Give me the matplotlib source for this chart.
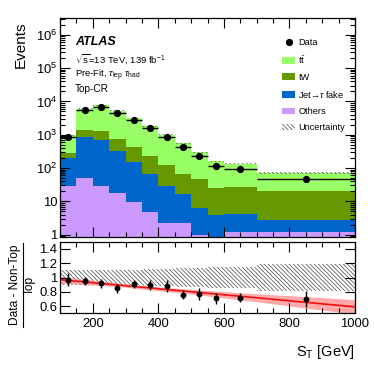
import matplotlib
matplotlib.use("Agg")
import matplotlib.pyplot as plt
import matplotlib.ticker as mticker
from matplotlib.patches import Patch
from matplotlib.lines import Line2D
import numpy as np

plt.rcParams['font.family'] = ['Liberation Sans', 'DejaVu Sans']
plt.rcParams['mathtext.fontset'] = 'custom'
plt.rcParams['mathtext.rm'] = 'Liberation Sans'
plt.rcParams['mathtext.it'] = 'Liberation Sans:italic'
plt.rcParams['mathtext.bf'] = 'Liberation Sans:bold'
plt.rcParams['hatch.linewidth'] = 0.45

# ---- data ----
edges = [100, 150, 200, 250, 300, 350, 400, 450, 500, 550, 600, 700, 1000]
centers = [125, 175, 225, 275, 325, 375, 425, 475, 525, 575, 650, 850]
data = [830, 5400, 6600, 4500, 2700, 1550, 830, 415, 224, 112, 95, 48]
ttbar = [668, 4650, 6340, 4490, 2745, 1556, 874, 492, 247, 133, 109, 50]
tw = [82, 500, 585, 430, 267, 158, 97, 51, 42, 21, 22, 18]
fake = [172, 800, 647, 312, 139, 61, 27, 15, 5.3, 3.2, 3.1, 1.6]
others = [28, 50, 28, 18, 9.3, 4.7, 2.3, 2.2, 1.0, 0.8, 1.17, 1.17]
unc_rel = [0.10, 0.10, 0.10, 0.11, 0.11, 0.12, 0.12, 0.13, 0.13, 0.14, 0.15, 0.19]

ratio = [0.97, 0.95, 0.92, 0.85, 0.91, 0.90, 0.88, 0.76, 0.77, 0.71, 0.72, 0.70]
ratio_err = [0.09, 0.056, 0.065, 0.06, 0.06, 0.07, 0.085, 0.063, 0.09, 0.08, 0.06, 0.115]

fit_x = [100, 1000]
fit_y = [0.97, 0.59]
band_x = [100, 300, 500, 700, 850, 1000]
band_half = [0.047, 0.022, 0.033, 0.055, 0.08, 0.10]

c_tt = '#99ff66'
c_tw = '#669900'
c_fake = '#0066cc'
c_oth = '#cc99ff'
hatch_col = '#333333'

fig = plt.figure(figsize=(3.74, 3.74), dpi=100)
W = 374.0
ax = fig.add_axes([60 / W, 1 - 237 / W, 295 / W, 219 / W])
rax = fig.add_axes([60 / W, 1 - 313.3 / W, 295 / W, 71.6 / W])

# ---- stacked histograms
b0 = np.array(others)
b1 = b0 + np.array(fake)
b2 = b1 + np.array(tw)
b3 = b2 + np.array(ttbar)
ax.stairs(b0, edges, baseline=1e-3, fill=True, color=c_oth, lw=0)
ax.stairs(b1, edges, baseline=b0, fill=True, color=c_fake, lw=0)
ax.stairs(b2, edges, baseline=b1, fill=True, color=c_tw, lw=0)
ax.stairs(b3, edges, baseline=b2, fill=True, color=c_tt, lw=0)
unc = np.array(unc_rel) * 0.25
ax.stairs(b3 * (1 + unc), edges, baseline=b3 * (1 - unc), fill=True,
          facecolor='none', edgecolor=hatch_col, lw=0, hatch='\\' * 8)

xerr = [np.array(centers) - np.array(edges[:-1]), np.array(edges[1:]) - np.array(centers)]
ax.errorbar(centers, data, yerr=np.sqrt(data), xerr=xerr, fmt='o', color='black',
            ms=4.2, lw=1, capsize=0, zorder=5)

ax.set_yscale('log')
ax.set_xlim(100, 1000)
ax.set_ylim(0.85, 3.2e6)


def logfmt(v, pos):
    if abs(v - 1) < 1e-6:
        return '1'
    if abs(v - 10) < 1e-6:
        return '10'
    return r'$\mathregular{10^{%d}}$' % int(round(np.log10(v)))


ax.yaxis.set_major_locator(mticker.LogLocator(base=10, numticks=12))
ax.yaxis.set_minor_locator(mticker.LogLocator(base=10, subs=np.arange(2, 10), numticks=12))
ax.yaxis.set_major_formatter(mticker.FuncFormatter(logfmt))
ax.yaxis.set_minor_formatter(mticker.NullFormatter())
ax.xaxis.set_major_locator(mticker.MultipleLocator(200))
ax.xaxis.set_minor_locator(mticker.MultipleLocator(50))
ax.set_xticklabels([])

# ---- ratio panel
rel = np.array(unc_rel)
rax.stairs(1 + rel, edges, baseline=1 - rel, fill=True, facecolor='none',
           edgecolor=hatch_col, lw=0, hatch='\\' * 8)
bx = np.linspace(100, 1000, 200)
line_y = np.interp(bx, fit_x, fit_y)
half = np.interp(bx, band_x, band_half)
rax.fill_between(bx, line_y - half, line_y + half, color='#ff8c8c', alpha=0.75, lw=0)
rax.plot(fit_x, fit_y, color='#ee1111', lw=1.2)
rax.errorbar(centers, ratio, yerr=ratio_err, fmt='o', color='black', ms=3.2, lw=1,
             capsize=0, zorder=5)
rax.set_xlim(100, 1000)
rax.set_ylim(0.5, 1.5)
rax.xaxis.set_major_locator(mticker.MultipleLocator(200))
rax.xaxis.set_minor_locator(mticker.MultipleLocator(50))
rax.set_yticks([0.6, 0.8, 1.0, 1.2, 1.4])
rax.yaxis.set_major_formatter(mticker.FuncFormatter(lambda v, p: '%g' % v))

for a in (ax, rax):
    a.tick_params(which='both', direction='in', top=True, right=True, labelsize=9.4)
    a.tick_params(which='major', length=7.2, width=0.8)
    a.tick_params(which='minor', length=3.6, width=0.8)
    a.tick_params(axis='y', pad=2)
    for s in a.spines.values():
        s.set_linewidth(0.9)

# ---- legend
handles = [
    Line2D([], [], marker='o', color='black', ls='none', ms=4.2),
    Patch(facecolor=c_tt, lw=0),
    Patch(facecolor=c_tw, lw=0),
    Patch(facecolor=c_fake, lw=0),
    Patch(facecolor=c_oth, lw=0),
    Patch(facecolor='none', edgecolor=hatch_col, lw=0, hatch='\\' * 8),
]
labels = ['Data', r'$\mathrm{t\bar{t}}$', 'tW', 'Jet\u2192$\\tau$ fake', 'Others', 'Uncertainty']
ax.legend(handles, labels, loc='upper left', bbox_to_anchor=(0.7525, 0.91), frameon=False,
          fontsize=6.6, borderpad=0, borderaxespad=0, handlelength=1.45, handleheight=0.7,
          handletextpad=0.35, labelspacing=0.78)

# ---- labels
fig.text(75 / W, 1 - 42 / W, 'ATLAS', fontsize=9, fontweight='bold', fontstyle='italic',
         va='center', ha='left')
fig.text(75 / W, 1 - 59 / W, r'$\sqrt{\mathrm{s}}$=13 TeV, 139 fb$^{\mathregular{-1}}$', fontsize=6.8,
         va='center', ha='left')
fig.text(75 / W, 1 - 75 / W, r'Pre-Fit, $\tau_{\mathrm{lep}}\ \tau_{\mathrm{had}}$', fontsize=6.8,
         va='center', ha='left')
fig.text(75 / W, 1 - 89 / W, 'Top-CR', fontsize=7.2, va='center', ha='left')

fig.text(21 / W, 1 - 22 / W, 'Events', rotation=90, fontsize=11, ha='center', va='top')
fig.text(355 / W, 1 - 352 / W, r'S$_{\mathregular{T}}$ [GeV]', fontsize=10.5, ha='right', va='center')

# fraction label of the ratio panel
fig.text(15 / W, 1 - 285 / W, 'Data - Non-Top', rotation=90, fontsize=8.6, ha='center', va='center')
fig.text(30 / W, 1 - 285 / W, 'Top', rotation=90, fontsize=8.6, ha='center', va='center')
fig.add_artist(Line2D([23 / W, 23 / W], [1 - 243 / W, 1 - 327 / W], color='black', lw=0.8))

fig.savefig('out.png', dpi=100)
